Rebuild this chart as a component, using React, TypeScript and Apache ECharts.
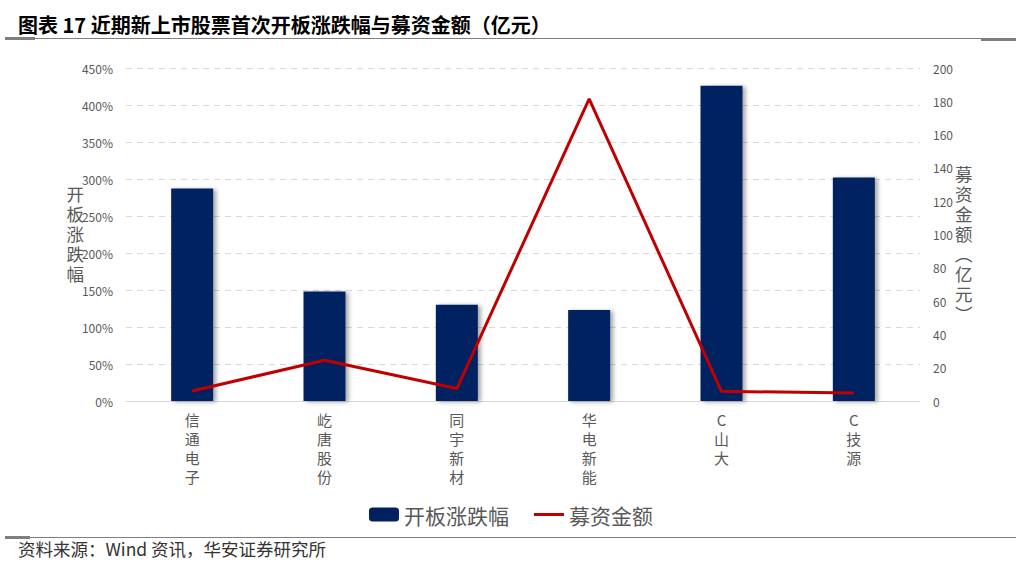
import React, { useEffect, useRef } from 'react'
import * as echarts from 'echarts'

// 数据
const categories = ['信通电子', '屹唐股份', '同宇新材', '华电新能', 'C山大', 'C技源']
const openBoardChange = [287, 148, 130, 123, 426, 302] // 开板涨跌幅 (%)
const raisedAmount = [6.0, 24.5, 7.5, 181.4, 5.8, 4.8] // 募资金额 (亿元)

const FONT = '"Noto Sans CJK SC", "Noto Sans", sans-serif'
// 竖排轴名：行距紧凑
const NAME_FONT = '"Liberation Sans", "Noto Sans CJK SC", sans-serif'
const GRAY = '#595959'

const App = () => {
  const chartRef = useRef<HTMLDivElement>(null)

  useEffect(() => {
    const chart = echarts.init(chartRef.current!, undefined, { renderer: 'svg' })

    const options = {
      animation: false,
      textStyle: { fontFamily: FONT },
      grid: { left: 126, right: 102, top: 68, bottom: 163 },
      legend: {
        left: 'center',
        top: 499,
        itemWidth: 30,
        itemHeight: 14,
        itemGap: 25,
        textStyle: { color: GRAY, fontSize: 21, fontFamily: FONT },
        data: [
          { name: '开板涨跌幅' },
          // 图例只画一条线，不带圆点
          { name: '募资金额', icon: 'path://M0,0 L30,0 L30,3 L0,3 Z', symbolKeepAspect: true },
        ],
      },
      xAxis: {
        type: 'category',
        data: categories,
        axisTick: { show: false },
        axisLine: { lineStyle: { color: '#d9d9d9', width: 1 } },
        axisLabel: {
          color: GRAY,
          fontSize: 15,
          lineHeight: 19,
          margin: 9,
          interval: 0,
          formatter: (v: string) => v.split('').join('\n'),
        },
      },
      yAxis: [
        {
          type: 'value',
          min: 0,
          max: 450,
          interval: 50,
          name: '开板涨跌幅'.split('').join('\n'),
          nameLocation: 'middle',
          nameRotate: 0,
          nameGap: 42,
          nameMoveOverlap: false,
          nameTextStyle: { color: GRAY, fontSize: 17.5, lineHeight: 20, fontFamily: NAME_FONT },
          axisLine: { show: false },
          axisTick: { show: false },
          axisLabel: { color: GRAY, fontSize: 12, margin: 13, formatter: '{value}%' },
          splitLine: { lineStyle: { color: '#d9d9d9', type: [6, 5], width: 1 } },
        },
        {
          type: 'value',
          min: 0,
          max: 200,
          interval: 20,
          name: '\n' + '募资金额︵亿元︶'.split('').join('\n'),
          nameLocation: 'middle',
          nameRotate: 0,
          nameGap: 35,
          nameMoveOverlap: false,
          nameTextStyle: { color: GRAY, fontSize: 17.5, lineHeight: 20, fontFamily: NAME_FONT },
          axisLine: { show: false },
          axisTick: { show: false },
          axisLabel: { color: GRAY, fontSize: 12, margin: 13 },
          splitLine: { show: false },
        },
      ],
      series: [
        {
          name: '开板涨跌幅',
          type: 'bar',
          data: openBoardChange,
          barWidth: 42,
          itemStyle: {
            color: '#002060',
            shadowColor: 'rgba(0,0,0,0.35)',
            shadowBlur: 4,
            shadowOffsetX: 3,
            shadowOffsetY: 1,
          },
        },
        {
          name: '募资金额',
          type: 'line',
          yAxisIndex: 1,
          data: raisedAmount,
          symbol: 'none',
          lineStyle: { color: '#c00000', width: 3 },
          itemStyle: { color: '#c00000' },
        },
      ],
      graphic: [
        {
          type: 'text',
          left: 18,
          top: 14,
          style: {
            text: '图表 17 近期新上市股票首次开板涨跌幅与募资金额（亿元）',
            fill: '#000',
            font: `bold 20px ${FONT}`,
          },
        },
        { type: 'line', shape: { x1: 5, y1: 38.5, x2: 1016, y2: 38.5 }, style: { stroke: '#7f7f7f', lineWidth: 1 } },
        { type: 'rect', shape: { x: 5, y: 37, width: 30, height: 3 }, style: { fill: '#7f7f7f' } },
        { type: 'rect', shape: { x: 981, y: 38, width: 35, height: 3 }, style: { fill: '#7f7f7f' } },
        { type: 'line', shape: { x1: 5, y1: 537.5, x2: 1016, y2: 537.5 }, style: { stroke: '#7f7f7f', lineWidth: 1 } },
        { type: 'rect', shape: { x: 5, y: 536, width: 25, height: 3 }, style: { fill: '#7f7f7f' } },
        {
          type: 'text',
          left: 18,
          top: 540,
          style: {
            text: '资料来源：Wind 资讯，华安证券研究所',
            fill: '#333',
            font: `17.5px ${FONT}`,
          },
        },
      ],
    }

    chart.setOption(options)

    return () => {
      chart.dispose()
    }
  }, [])

  return (
    <div
      ref={chartRef}
      style={{ position: 'fixed', left: 0, top: 0, width: '1022px', height: '564px', background: '#fff' }}
    ></div>
  )
}

export default App
